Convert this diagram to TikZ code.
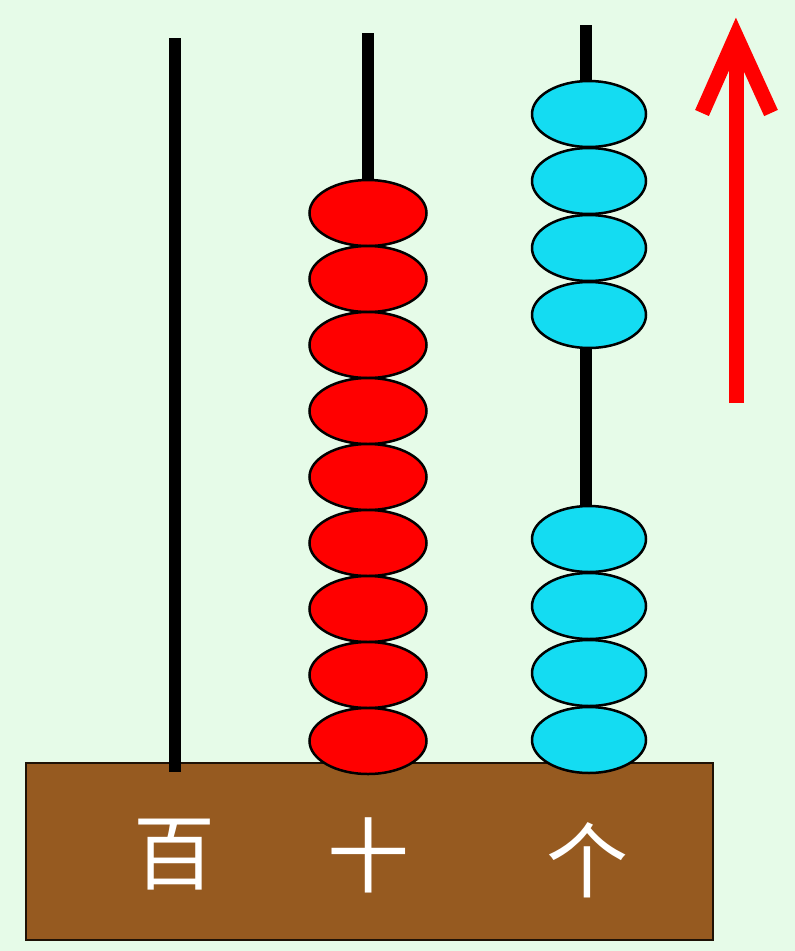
\documentclass[tikz,border=0pt]{standalone}
\usepackage{fontspec}
\newfontfamily\cjk{Noto Sans CJK SC}
\usepackage{tikz}
\usetikzlibrary{positioning}
\usetikzlibrary{shapes.geometric}
\usetikzlibrary{arrows}
\tikzset{>=stealth}
\definecolor{mint}{RGB}{230,251,232}
\definecolor{wood}{RGB}{150,90,32}
\definecolor{sky}{RGB}{20,220,242}

\begin{document}
\begin{tikzpicture}[x=1pt,y=-1pt]
		\tikzset{rod/.style={line width=12pt,black},
			bead/.style={ellipse,draw=black,line width=2.5pt,inner sep=0pt,outer sep=0pt,minimum height=66pt},
			redbead/.style={bead,fill=red,minimum width=117pt},
			skybead/.style={bead,fill=sky,minimum width=114pt}}
		\fill[mint] (0,0) rectangle (795,951);
		\useasboundingbox (0,0) rectangle (795,951);
		\draw[fill=wood,draw=black!80!wood,line width=2pt] (26,763) rectangle (713,940);
		\coordinate (htop) at (175,38);
		\coordinate (hbot) at (175,772);
		\coordinate (ttop) at (368,33);
		\coordinate (tbot) at (368,760);
		\coordinate (otop) at (586,25);
		\coordinate (obot) at (586,760);
		\draw[rod] (htop)--(hbot);
		\draw[rod] (ttop)--(tbot);
		\draw[rod] (otop)--(obot);
		\begin{scope}[node distance=0pt]
		  \node[redbead] (t1) at (368,213) {};
		  \node[redbead,below=of t1] (t2) {};
		  \node[redbead,below=of t2] (t3) {};
		  \node[redbead,below=of t3] (t4) {};
		  \node[redbead,below=of t4] (t5) {};
		  \node[redbead,below=of t5] (t6) {};
		  \node[redbead,below=of t6] (t7) {};
		  \node[redbead,below=of t7] (t8) {};
		  \node[redbead,below=of t8] (t9) {};
		\end{scope}
		\begin{scope}[node distance=1pt]
		  \node[skybead] (o1) at (589,114) {};
		  \node[skybead,below=of o1] (o2) {};
		  \node[skybead,below=of o2] (o3) {};
		  \node[skybead,below=of o3] (o4) {};
		  \node[skybead] (o5) at (589,539) {};
		  \node[skybead,below=of o5] (o6) {};
		  \node[skybead,below=of o6] (o7) {};
		  \node[skybead,below=of o7] (o8) {};
		\end{scope}
		\begin{scope}[every node/.style={text=white,font=\cjk\fontsize{82pt}{82pt}\selectfont}]
		  \node (bai) at (174,855) {百};
		  \node (shi) at (368,855) {十};
		  \node (ge) at (587,860) {个};
		\end{scope}
		\coordinate (tail) at (736,403);
		\coordinate (tip) at (736,36);
		\coordinate (lwing) at (702,113);
		\coordinate (rwing) at (771,113);
		\draw[red,line width=15pt] (tail)--(tip);
		\draw[red,line width=15pt,miter limit=10] (lwing)--(tip)--(rwing);
	\end{tikzpicture}
\end{document}
